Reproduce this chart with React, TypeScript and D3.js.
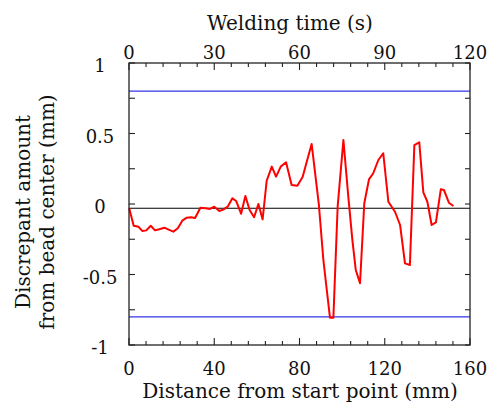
import React from "react"
import * as d3 from "d3"

// ── Data ──────────────────────────────────────────────────────────────────────

const distance = [
  0.1, 2.2, 4.4, 6.2, 8.1, 10.2, 12.2, 14.2, 16.6, 18.6, 20.8, 22.9, 25.0, 27.1,
  29.1, 31.0, 33.5, 36.0, 38.0, 40.0, 42.4, 44.4, 46.3, 48.5, 50.3, 52.6, 54.6,
  56.6, 58.7, 60.7, 62.7, 64.6, 67.0, 69.0, 71.2, 73.7, 76.3, 79.0, 81.5, 83.4,
  85.7, 89.1, 91.2, 92.8, 94.3, 95.9, 97.9, 100.6, 102.9, 104.8, 106.4, 108.4,
  110.4, 112.6, 114.6, 117.0, 119.3, 121.7, 124.8, 127.2, 129.5, 131.8, 133.9,
  136.2, 138.1, 140.0, 142.0, 144.0, 146.3, 147.8, 150.1, 152.2,
]
const discrepancy = [
  -0.03, -0.154, -0.161, -0.191, -0.187, -0.154, -0.187, -0.179, -0.168, -0.182,
  -0.196, -0.172, -0.118, -0.097, -0.094, -0.099, -0.026, -0.03, -0.035, -0.019,
  -0.05, -0.038, -0.019, 0.04, 0.021, -0.069, 0.057, -0.043, -0.094, 0.0, -0.109,
  0.165, 0.265, 0.194, 0.265, 0.296, 0.135, 0.13, 0.194, 0.3, 0.426, -0.007,
  -0.397, -0.61, -0.806, -0.806, -0.019, 0.454, 0.052, -0.255, -0.468, -0.562,
  0.005, 0.175, 0.218, 0.312, 0.36, 0.016, -0.055, -0.149, -0.421, -0.433, 0.418,
  0.438, 0.083, 0.016, -0.149, -0.13, 0.104, 0.099, 0.009, -0.014,
]

const limits = [0.8, -0.8]
const centerLine = -0.03

const xTicks = [0, 40, 80, 120, 160]
const xMinor = d3.range(0, 161, 8)
const timeTicks = [0, 30, 60, 90, 120]
const timeMinor = d3.range(0, 121, 6)
const yTicks = [1, 0.5, 0, -0.5, -1]
const yTickLabels = ["1", "0.5", "0", "-0.5", "-1"]
const yMinor = d3.range(-1, 1.01, 0.25)

// ── Chart ─────────────────────────────────────────────────────────────────────

const W = 491
const H = 407
const plot = { left: 129, right: 470, top: 63, bottom: 345 }
const FONT = "'DejaVu Serif', serif"

export default function App() {
  const x = d3.scaleLinear().domain([0, 160]).range([plot.left, plot.right])
  const xt = d3.scaleLinear().domain([0, 120]).range([plot.left, plot.right])
  const y = d3.scaleLinear().domain([-1, 1]).range([plot.bottom, plot.top])

  const pts: [number, number][] = distance.map((d, i) => [d, discrepancy[i]])
  const line = d3
    .line<[number, number]>()
    .x(d => x(d[0]))
    .y(d => y(d[1]))

  return (
    <svg
      width={W}
      height={H}
      style={{ position: "absolute", left: 0, top: 0, background: "#fff" }}
      fontFamily={FONT}
    >
      {/* limit lines */}
      {limits.map(v => (
        <line
          key={v}
          x1={plot.left}
          x2={plot.right}
          y1={y(v)}
          y2={y(v)}
          stroke="#3535e8"
          strokeWidth={1.3}
        />
      ))}
      <line
        x1={plot.left}
        x2={plot.right}
        y1={y(centerLine)}
        y2={y(centerLine)}
        stroke="#000"
        strokeWidth={1.2}
      />

      {/* data */}
      <path
        d={line(pts) ?? ""}
        fill="none"
        stroke="#ff0000"
        strokeWidth={2}
        strokeLinejoin="round"
      />

      {/* frame */}
      <rect
        x={plot.left}
        y={plot.top}
        width={plot.right - plot.left}
        height={plot.bottom - plot.top}
        fill="none"
        stroke="#222"
        strokeWidth={1.3}
      />

      {/* bottom ticks */}
      {xMinor.map(t => {
        const len = t % 40 === 0 ? 7 : 4
        return (
          <line
            key={`b${t}`}
            x1={x(t)}
            x2={x(t)}
            y1={plot.bottom}
            y2={plot.bottom - len}
            stroke="#222"
            strokeWidth={1.1}
          />
        )
      })}
      {/* top ticks */}
      {timeMinor.map(t => {
        const len = t % 30 === 0 ? 7 : 4
        return (
          <line
            key={`t${t}`}
            x1={xt(t)}
            x2={xt(t)}
            y1={plot.top}
            y2={plot.top + len}
            stroke="#222"
            strokeWidth={1.1}
          />
        )
      })}
      {/* left / right ticks */}
      {yMinor.map(t => (
        <g key={`y${t}`}>
          <line
            x1={plot.left}
            x2={plot.left + 6}
            y1={y(t)}
            y2={y(t)}
            stroke="#222"
            strokeWidth={1.1}
          />
          <line
            x1={plot.right}
            x2={plot.right - 5}
            y1={y(t)}
            y2={y(t)}
            stroke="#222"
            strokeWidth={1.1}
          />
        </g>
      ))}

      {/* tick labels */}
      {xTicks.map(t => (
        <text
          key={`bl${t}`}
          x={x(t)}
          y={375}
          textAnchor="middle"
          fontSize={18}
          fill="#111"
        >
          {t}
        </text>
      ))}
      {timeTicks.map(t => (
        <text
          key={`tl${t}`}
          x={xt(t)}
          y={59}
          textAnchor="middle"
          fontSize={18}
          fill="#111"
        >
          {t}
        </text>
      ))}
      {yTicks.map((t, i) => (
        <text
          key={`yl${t}`}
          x={100}
          y={y(t) + 9}
          textAnchor="middle"
          fontSize={18}
          fill="#111"
        >
          {yTickLabels[i]}
        </text>
      ))}

      {/* axis titles */}
      <text x={290} y={30} textAnchor="middle" fontSize={20} fill="#111">
        Welding time (s)
      </text>
      <text x={300} y={398} textAnchor="middle" fontSize={20} fill="#111">
        Distance from start point (mm)
      </text>
      <g transform="translate(30,212) rotate(-90)">
        <text x={0} y={0} textAnchor="middle" fontSize={20} fill="#111">
          Discrepant amount
        </text>
        <text x={0} y={24} textAnchor="middle" fontSize={20} fill="#111">
          from bead center (mm)
        </text>
      </g>
    </svg>
  )
}
